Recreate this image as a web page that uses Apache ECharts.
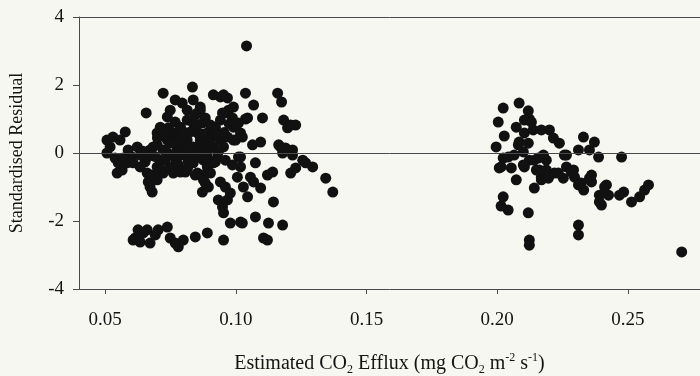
<!DOCTYPE html>
<html>
<head>
<meta charset="utf-8">
<script src="https://cdn.jsdelivr.net/npm/echarts@6/dist/echarts.min.js"></script>
<style>
html,body{margin:0;padding:0;background:#f7f7f2;}
#chart{width:700px;height:376px;}
</style>
</head>
<body>
<div id="chart"></div>
<script>
// Tick labels
var xTickValues = [0.05, 0.10, 0.15, 0.20, 0.25];
var yTickValues = [-4, -2, 0, 2, 4];

// Points below 0.15 (estimated CO2 efflux, standardised residual)
var lowEffluxPoints = [
[0.1041,3.15],[0.0722,1.76],[0.0834,1.94],[0.0657,1.18],[0.0768,1.56],[0.0795,1.47],[0.0814,1.26],[0.0837,1.56],[0.0853,1.18],[0.0864,1.35],
[0.0749,1.26],[0.0738,1.06],[0.0711,0.76],[0.0699,0.59],[0.0684,0.18],[0.0661,-0.12],[0.0507,0.38],[0.0530,0.47],[0.0577,0.62],[0.0507,0.00],
[0.0519,0.18],[0.0557,0.38],[0.0550,-0.29],[0.0546,-0.59],[0.0565,-0.50],[0.0584,-0.29],[0.0603,-0.12],[0.0623,0.18],[0.0607,-0.29],[0.0634,-0.41],
[0.0661,-0.59],[0.0665,-0.85],[0.0680,-1.15],[0.0672,-1.00],[0.0699,-0.41],[0.0711,-0.21],[0.0738,0.00],[0.0722,-0.59],[0.0749,-0.41],[0.0761,-0.59],
[0.0788,-0.56],[0.0807,-0.56],[0.0738,0.38],[0.0761,0.59],[0.0788,0.76],[0.0814,0.97],[0.0837,0.88],[0.0814,0.38],[0.0788,0.18],[0.0837,0.18],
[0.0864,0.38],[0.0853,-0.12],[0.0876,-0.21],[0.0891,0.00],[0.0837,-0.29],[0.0853,-0.59],[0.0876,-0.65],[0.0891,-0.41],[0.0903,-0.59],[0.0914,-0.29],
[0.0930,-0.12],[0.0914,0.18],[0.0891,0.59],[0.0914,0.76],[0.0941,0.97],[0.0968,1.18],[0.0991,1.35],[0.0941,1.65],[0.0968,1.62],[0.0914,1.71],
[0.0991,0.76],[0.0968,0.47],[0.0991,0.38],[0.1018,0.59],[0.0941,0.38],[0.0953,0.18],[0.0876,-0.79],[0.0895,-1.00],[0.0872,-1.15],[0.0845,-0.65],
[0.0941,-0.85],[0.0960,-1.00],[0.0933,-1.38],[0.0949,-1.59],[0.0953,-1.76],[0.0968,-1.38],[0.0979,-1.18],[0.0979,-2.06],[0.1018,-2.03],[0.1006,-0.71],
[0.1018,-0.41],[0.1045,-1.29],[0.1029,-1.00],
[0.0615,-2.50],[0.0626,-2.26],[0.0646,-2.35],[0.0661,-2.26],[0.0672,-2.65],[0.0692,-2.41],[0.0703,-2.26],[0.0738,-2.18],[0.0749,-2.50],[0.0768,-2.65],
[0.0780,-2.76],[0.0799,-2.56],[0.0845,-2.47],[0.0891,-2.35],[0.0953,-2.56],[0.0607,-2.56],[0.0634,-2.62],
[0.1075,-1.88],[0.1125,-2.06],[0.1179,-2.12],[0.1106,-2.50],[0.1121,-2.56],[0.1095,-1.03],[0.1144,-1.44],[0.1344,-0.74],[0.1371,-1.15],[0.1229,-0.44],
[0.1267,-0.29],[0.1294,-0.41],[0.1210,-0.59],[0.1141,-0.56],[0.1121,-0.65],[0.1068,-0.85],[0.1056,-0.71],[0.1075,-0.29],[0.1010,-0.12],[0.0987,-0.35],
[0.0922,-0.26],[0.0883,-0.88],[0.1179,0.00],[0.1217,-0.06],
[0.1037,1.76],[0.1068,1.41],[0.1160,1.76],[0.1175,1.50],[0.1102,1.03],[0.1037,1.00],[0.1183,0.97],[0.1210,0.82],[0.1229,0.82],[0.1198,0.74],
[0.1095,0.32],[0.1064,0.24],[0.1164,0.24],[0.1190,0.15],[0.1217,0.09],[0.1256,-0.21],[0.0972,1.26],[0.0949,1.18],[0.0987,1.03],[0.1010,0.88],
[0.1025,0.47],[0.0999,0.38],[0.0922,0.76],[0.0910,0.47],[0.0895,0.29],[0.0864,1.26],[0.0872,0.88],[0.0853,0.59],[0.1018,-0.12],
[0.0672,0.09],[0.0699,0.24],[0.0722,0.09],[0.0749,0.29],[0.0776,0.09],[0.0799,-0.06],[0.0772,-0.21],[0.0826,-0.06],[0.0807,0.53],[0.0776,0.44],
[0.0826,0.62],[0.0768,0.91],[0.0742,0.74],[0.0845,1.12],[0.0883,1.03],[0.0903,0.82],[0.0730,-0.21],[0.0757,-0.06],[0.0653,-0.26],[0.0634,-0.06],
[0.0588,0.09],[0.0538,-0.15],[0.0569,-0.15],[0.0684,-0.65],[0.0699,-0.79],[0.0818,-0.26],[0.0868,0.15],[0.0933,0.03],[0.0960,-0.21],[0.0807,0.29],
[0.1025,-2.06],[0.0953,1.71],[0.1045,1.03],[0.1171,0.18],
[0.0700,0.45],[0.0725,0.50],[0.0760,0.30],[0.0790,0.45],[0.0820,0.15],[0.0845,0.05],[0.0860,0.20],[0.0795,0.65],[0.0850,0.80],[0.0870,0.55],
[0.0900,0.35],[0.0925,0.55],[0.0955,0.60],[0.0975,0.85],[0.0710,-0.45],[0.0780,-0.35],[0.0815,-0.45],[0.0890,-0.15],[0.0645,0.05],[0.0690,-0.10]
];

// Points above 0.19
var highEffluxPoints = [
[0.2023,1.32],[0.2084,1.47],[0.2119,1.24],[0.2123,1.00],[0.2004,0.91],[0.2073,0.76],[0.2027,0.50],[0.1996,0.18],[0.2084,0.32],[0.2104,0.59],
[0.2138,0.68],[0.2169,0.68],[0.2200,0.68],[0.2215,0.44],[0.2238,0.29],[0.2330,0.47],[0.2372,0.32],[0.2353,0.09],[0.2388,-0.12],[0.2311,0.09],
[0.2265,-0.06],[0.2476,-0.12],[0.2023,-0.15],[0.2015,-0.41],[0.2054,-0.44],[0.2073,-0.79],[0.2104,-0.41],[0.2123,-0.21],[0.2157,-0.15],[0.2188,-0.21],
[0.2150,-0.50],[0.2169,-0.71],[0.2196,-0.74],[0.2219,-0.59],[0.2253,-0.74],[0.2265,-0.41],[0.2292,-0.50],[0.2296,-0.71],[0.2142,-1.03],[0.2311,-0.94],
[0.2331,-1.09],[0.2353,-0.74],[0.2391,-1.24],[0.2399,-1.53],[0.2411,-1.00],[0.2468,-1.24],[0.2514,-1.44],[0.2545,-1.29],[0.2564,-1.09],[0.2579,-0.94],
[0.2023,-1.29],[0.2015,-1.56],[0.2042,-1.68],[0.2119,-1.76],[0.2123,-2.56],[0.2123,-2.71],[0.2311,-2.12],[0.2311,-2.41],[0.2706,-2.91],
[0.2104,0.97],[0.2131,0.91],[0.2081,0.24],[0.2065,-0.06],[0.2100,0.03],[0.2119,0.29],[0.2042,-0.12],[0.2008,-0.44],[0.2100,-0.35],[0.2142,-0.21],
[0.2177,-0.06],[0.2161,-0.50],[0.2188,-0.50],[0.2169,-0.79],[0.2234,-0.59],[0.2284,-0.56],[0.2257,-0.06],[0.2322,-0.88],[0.2361,-0.65],[0.2418,-0.94],
[0.2484,-1.15],[0.2426,-1.24],[0.2361,-0.85],[0.2391,-1.44]
];

var font = 'Liberation Serif';
var ink = '#141414';
var lineCol = '#4a4a4a';

var chart = echarts.init(document.getElementById('chart'), null, {renderer: 'canvas'});
chart.setOption({
  backgroundColor: '#f7f7f2',
  animation: false,
  grid: {left: 79, right: 0, top: 17, bottom: 87, containLabel: false, outerBoundsMode: 'none'},
  xAxis: {
    type: 'value',
    min: 0.04,
    max: 0.2776,
    name: 'Estimated CO{sub|2} Efflux (mg CO{sub|2} m{sup|-2} s{sup|-1})',
    nameLocation: 'middle',
    nameGap: 63,
    nameTextStyle: {
      fontFamily: font, fontSize: 20, color: ink, lineHeight: 24,
      rich: {
        sub: {fontFamily: font, fontSize: 12, color: ink, verticalAlign: 'bottom', lineHeight: 24},
        sup: {fontFamily: font, fontSize: 12, color: ink, verticalAlign: 'top', lineHeight: 24}
      }
    },
    axisLine: {show: true, onZero: false, lineStyle: {color: lineCol, width: 1}},
    axisTick: {show: true, inside: false, length: 5, customValues: xTickValues, lineStyle: {color: lineCol}},
    axisLabel: {
      customValues: xTickValues,
      margin: 22,
      fontFamily: font, fontSize: 19, color: ink,
      formatter: function (v) { return v.toFixed(2); }
    },
    splitLine: {show: false}
  },
  yAxis: {
    type: 'value',
    min: -4,
    max: 4,
    interval: 2,
    name: 'Standardised Residual',
    nameLocation: 'middle',
    nameGap: 53,
    nameTextStyle: {fontFamily: font, fontSize: 18, color: ink},
    axisLine: {show: true, onZero: false, lineStyle: {color: lineCol, width: 1}},
    axisTick: {show: true, inside: false, length: 6, lineStyle: {color: lineCol}},
    axisLabel: {margin: 15, fontFamily: font, fontSize: 19, color: ink},
    splitLine: {show: false}
  },
  series: [
    {
      type: 'scatter',
      data: lowEffluxPoints,
      symbol: 'circle',
      symbolSize: 11,
      itemStyle: {color: '#111', opacity: 1},
      markLine: {
        silent: true,
        symbol: ['none', 'none'],
        label: {show: false},
        lineStyle: {color: lineCol, width: 1, type: 'solid'},
        data: [{yAxis: 0}, {yAxis: 4}]
      },
      z: 3
    },
    {
      type: 'scatter',
      data: highEffluxPoints,
      symbol: 'circle',
      symbolSize: 11,
      itemStyle: {color: '#111', opacity: 1},
      z: 3
    }
  ]
});
</script>
</body>
</html>
